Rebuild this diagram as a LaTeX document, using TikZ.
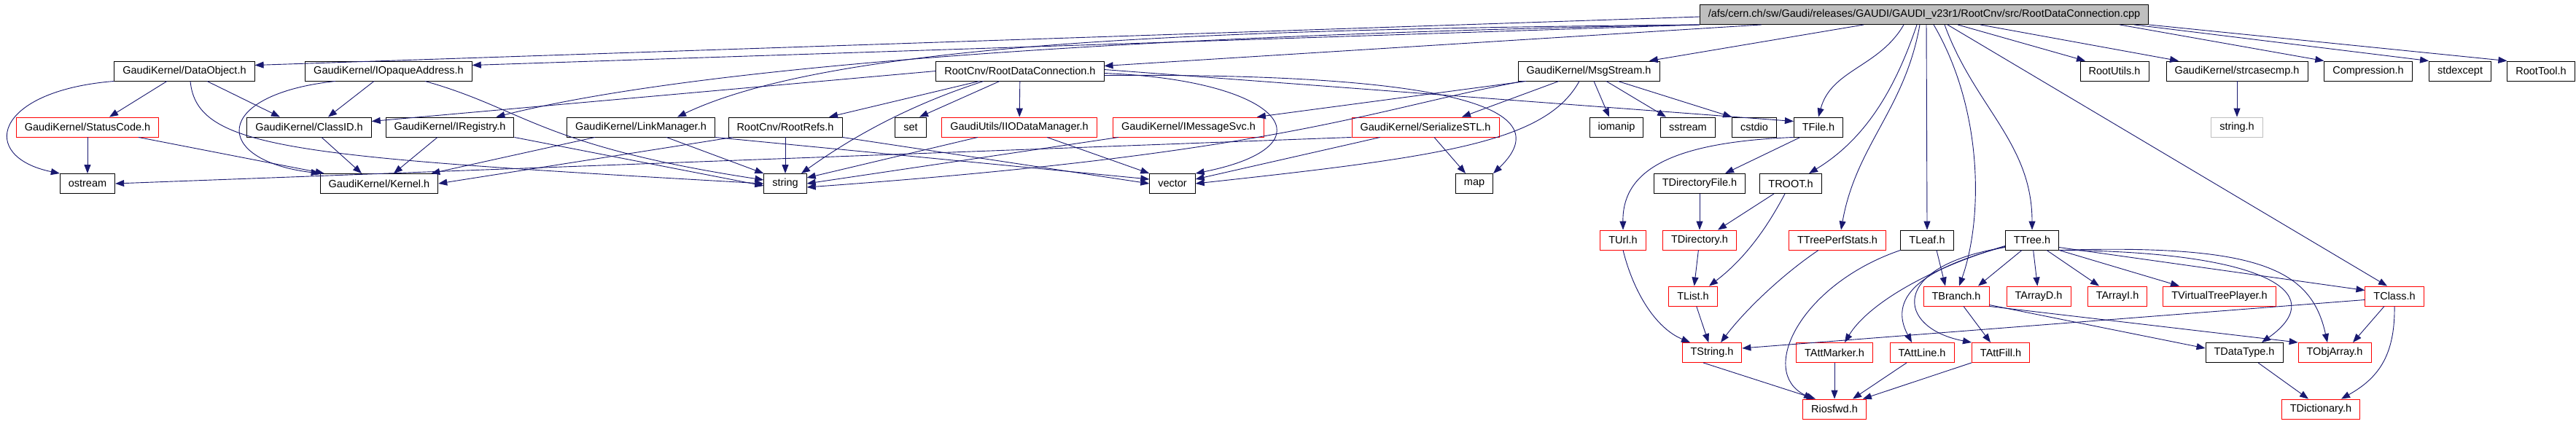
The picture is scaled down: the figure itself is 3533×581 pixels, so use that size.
\documentclass[tikz,border=0pt]{standalone}
\usepackage{fontspec}
\setmainfont{Liberation Sans}
\usepackage{tikz}
\usetikzlibrary{arrows.meta}
\definecolor{edgeblue}{HTML}{191970}
\definecolor{boxgray}{HTML}{BFBFBF}
\tikzset{
  mybox/.style = {rectangle, draw=black, fill=white, line width=0.9pt, minimum height=27pt, inner xsep=11.5pt, inner ysep=2pt, font=\fontsize{14.5}{17}\selectfont},
  myred/.style = {mybox, draw=red},
  mymain/.style = {mybox, fill=boxgray},
  mygray/.style = {mybox, draw=boxgray},
  myarrow/.style = {-{Triangle[length=12pt, width=9pt]}, draw=edgeblue, line width=0.9pt},
}

\begin{document}
\begin{tikzpicture}[x=1pt, y=1pt]
\useasboundingbox[fill=white] (0,0) rectangle (3533,-581);
\node[mymain] (main) at (2639,-20) {/afs/cern.ch/sw/Gaudi/releases/GAUDI/GAUDI\_v23r1/RootCnv/src/RootDataConnection.cpp};
\node[mybox] (dataobj) at (253,-97.5) {GaudiKernel/DataObject.h};
\node[mybox] (opaque) at (533,-97.5) {GaudiKernel/IOpaqueAddress.h};
\node[mybox] (rdch) at (1399,-97.5) {RootCnv/RootDataConnection.h};
\node[mybox] (msgstream) at (2179,-97.5) {GaudiKernel/MsgStream.h};
\node[mybox] (rootutils) at (2900,-97.5) {RootUtils.h};
\node[mybox] (strcase) at (3068,-97.5) {GaudiKernel/strcasecmp.h};
\node[mybox] (compress) at (3248,-97.5) {Compression.h};
\node[mybox] (stdexc) at (3374,-97.5) {stdexcept};
\node[mybox] (roottool) at (3485,-97.5) {RootTool.h};
\node[myred] (statuscode) at (120,-174.5) {GaudiKernel/StatusCode.h};
\node[mybox] (classid) at (424,-174.5) {GaudiKernel/ClassID.h};
\node[mybox] (iregistry) at (617,-174.5) {GaudiKernel/IRegistry.h};
\node[mybox] (linkmgr) at (879,-174.5) {GaudiKernel/LinkManager.h};
\node[mybox] (rootrefs) at (1077,-174.5) {RootCnv/RootRefs.h};
\node[mybox] (stdset) at (1249,-174.5) {set};
\node[myred] (iodatamgr) at (1398,-174.5) {GaudiUtils/IIODataManager.h};
\node[myred] (imsgsvc) at (1630,-174.5) {GaudiKernel/IMessageSvc.h};
\node[myred] (serialize) at (1955,-174.5) {GaudiKernel/SerializeSTL.h};
\node[mybox] (iomanip) at (2217,-174.5) {iomanip};
\node[mybox] (sstream) at (2315,-174.5) {sstream};
\node[mybox] (cstdio) at (2406,-174.5) {cstdio};
\node[mybox] (tfile) at (2494,-174.5) {TFile.h};
\node[mygray] (stringh) at (3068,-174.5) {string.h};
\node[mybox] (ostream) at (120,-252) {ostream};
\node[mybox] (kernel) at (520,-252) {GaudiKernel/Kernel.h};
\node[mybox] (stdstring) at (1077,-252) {string};
\node[mybox] (stdvector) at (1608,-252) {vector};
\node[mybox] (stdmap) at (2022,-252) {map};
\node[mybox] (tdirfile) at (2331,-252) {TDirectoryFile.h};
\node[mybox] (troot) at (2456,-252) {TROOT.h};
\node[myred] (turl) at (2226,-329.5) {TUrl.h};
\node[myred] (tdirectory) at (2331,-329.5) {TDirectory.h};
\node[myred] (tperf) at (2520,-329.5) {TTreePerfStats.h};
\node[mybox] (tleaf) at (2643,-329.5) {TLeaf.h};
\node[mybox] (ttree) at (2787,-329.5) {TTree.h};
\node[myred] (tlist) at (2322,-406.5) {TList.h};
\node[myred] (tbranch) at (2683,-406.5) {TBranch.h};
\node[myred] (tarrayd) at (2796,-406.5) {TArrayD.h};
\node[myred] (tarrayi) at (2904,-406.5) {TArrayI.h};
\node[myred] (tvtp) at (3044,-406.5) {TVirtualTreePlayer.h};
\node[myred] (tclass) at (3284,-406.5) {TClass.h};
\node[myred] (tstring) at (2348,-484) {TString.h};
\node[myred] (tattmarker) at (2516,-484) {TAttMarker.h};
\node[myred] (tattline) at (2636,-484) {TAttLine.h};
\node[myred] (tattfill) at (2744,-484) {TAttFill.h};
\node[mybox] (tdatatype) at (3078,-484) {TDataType.h};
\node[myred] (tobjarray) at (3202,-484) {TObjArray.h};
\node[myred] (riosfwd) at (2516,-561.5) {Riosfwd.h};
\node[myred] (tdict) at (3183,-561.5) {TDictionary.h};
\draw[myarrow] ([yshift=-3pt]main.west) -- ([yshift=8pt]dataobj.east);
\draw[myarrow] (main.south west) -- ([yshift=8pt]opaque.east);
\draw[myarrow] (main.south west) .. controls (1700,-45) and (1000,-80) .. ([xshift=-25pt]iregistry.north east);
\draw[myarrow] (main.south west) .. controls (1700,-40) and (1150,-55) .. ([xshift=50pt]linkmgr.north);
\draw[myarrow] ([xshift=85pt]main.south west) -- ([yshift=7pt]rdch.east);
\draw[myarrow] (main) -- (msgstream);
\draw[myarrow] ([xshift=-28pt]main.south) to[out=-120,in=75] (tfile.north);
\draw[myarrow] ([xshift=-10pt]main.south) .. controls (2600,-120) and (2560,-190) .. ([xshift=25pt]troot.north);
\draw[myarrow] ([xshift=-6pt]main.south) to[out=-100,in=80] ([xshift=5pt]tperf.north);
\draw[myarrow] ([xshift=3pt]main.south) -- (tleaf.north);
\draw[myarrow] ([xshift=13pt]main.south) .. controls (2720,-150) and (2720,-300) .. ([xshift=4pt]tbranch.north);
\draw[myarrow] ([xshift=28pt]main.south) to[out=-70,in=90] (ttree.north);
\draw[myarrow] ([xshift=32pt]main.south) -- ([xshift=-10pt]tclass.north);
\draw[myarrow] ([xshift=46pt]main.south) -- ([xshift=-40pt]rootutils.north);
\draw[myarrow] ([xshift=77pt]main.south) -- ([xshift=-80pt]strcase.north);
\draw[myarrow] ([xshift=-40pt]main.south east) -- (compress.north west);
\draw[myarrow] ([xshift=-20pt]main.south east) -- (stdexc.north west);
\draw[myarrow] (main.south east) -- (roottool.north west);
\draw[myarrow] (rdch.west) -- ([yshift=8pt]classid.east);
\draw[myarrow] ([xshift=-56pt]rdch.south) -- ([xshift=60pt]rootrefs.north);
\draw[myarrow] ([xshift=-50pt]rdch.south) .. controls (1260,-140) and (1180,-180) .. ([xshift=22pt]stdstring.north);
\draw[myarrow] ([xshift=-28pt]rdch.south) -- ([xshift=12pt]stdset.north);
\draw[myarrow] (rdch) -- (iodatamgr);
\draw[myarrow] ([yshift=-3pt]rdch.east) .. controls (1760,-110) and (1830,-200) .. (stdvector.north east);
\draw[myarrow] ([yshift=-6pt]rdch.east) .. controls (2000,-100) and (2140,-150) .. (stdmap.north east);
\draw[myarrow] ([yshift=2pt]rdch.east) -- ([yshift=8pt]tfile.west);
\draw[myarrow] ([xshift=-24pt]dataobj.south) -- ([xshift=30pt]statuscode.north);
\draw[myarrow] ([xshift=31pt]dataobj.south) -- ([xshift=-40pt]classid.north);
\draw[myarrow] (dataobj.south west) .. controls (-10,-125) and (-30,-215) .. (ostream.north west);
\draw[myarrow] ([xshift=8pt]dataobj.south) .. controls (270,-205) and (400,-215) .. (stdstring.west);
\draw[myarrow] ([xshift=-20pt]opaque.south) -- ([xshift=26pt]classid.north);
\draw[myarrow] ([xshift=-73pt]opaque.south) .. controls (290,-130) and (290,-220) .. (kernel.north west);
\draw[myarrow] ([xshift=50pt]opaque.south) .. controls (720,-150) and (740,-200) .. ([yshift=5pt]stdstring.west);
\draw[myarrow] (statuscode) -- (ostream);
\draw[myarrow] ([xshift=70pt]statuscode.south) -- ([xshift=6pt]kernel.north west);
\draw[myarrow] ([xshift=17pt]classid.south) -- ([xshift=-24pt]kernel.north);
\draw[myarrow] ([xshift=-17pt]iregistry.south) -- ([xshift=20pt]kernel.north);
\draw[myarrow] (iregistry.south east) -- ([yshift=-3pt]stdstring.west);
\draw[myarrow] ([xshift=-63pt]linkmgr.south) -- ([xshift=-10pt]kernel.north east);
\draw[myarrow] ([xshift=35pt]linkmgr.south) -- (stdstring.north west);
\draw[myarrow] (linkmgr.south east) -- ([yshift=6pt]stdvector.west);
\draw[myarrow] (rootrefs) -- (stdstring);
\draw[myarrow] ([xshift=-72pt]rootrefs.south) -- (kernel.east);
\draw[myarrow] (rootrefs.south east) -- (stdvector.west);
\draw[myarrow] ([xshift=-57pt]iodatamgr.south) -- ([yshift=8pt]stdstring.east);
\draw[myarrow] ([xshift=38pt]iodatamgr.south) -- (stdvector.north west);
\draw[myarrow] ([xshift=-96pt]imsgsvc.south) -- (stdstring.east);
\draw[myarrow] (serialize.south west) -- (ostream.east);
\draw[myarrow] ([xshift=-62pt]serialize.south) -- ([yshift=6pt]stdvector.east);
\draw[myarrow] ([xshift=12pt]serialize.south) -- ([xshift=-12pt]stdmap.north);
\draw[myarrow] ([xshift=-86pt]msgstream.south) -- ([xshift=-10pt]imsgsvc.north east);
\draw[myarrow] ([xshift=-41pt]msgstream.south) -- ([xshift=50pt]serialize.north);
\draw[myarrow] ([xshift=-90pt]msgstream.south) .. controls (1880,-150) and (1760,-210) .. ([yshift=-5pt]stdstring.east);
\draw[myarrow] ([xshift=-13pt]msgstream.south) .. controls (2120,-195) and (1980,-215) .. (stdvector.east);
\draw[myarrow] ([xshift=7pt]msgstream.south) -- ([xshift=-10pt]iomanip.north);
\draw[myarrow] ([xshift=24pt]msgstream.south) -- ([xshift=-30pt]sstream.north);
\draw[myarrow] ([xshift=40pt]msgstream.south) -- (cstdio.north west);
\draw[myarrow] (tfile.south west) .. controls (2300,-195) and (2225,-230) .. (turl.north);
\draw[myarrow] ([xshift=-25pt]tfile.south) -- ([xshift=35pt]tdirfile.north);
\draw[myarrow] (tdirfile) -- (tdirectory);
\draw[myarrow] ([xshift=-23pt]troot.south) -- ([xshift=25pt]tdirectory.north);
\draw[myarrow] ([xshift=-8pt]troot.south) .. controls (2430,-300) and (2400,-350) .. ([xshift=22pt]tlist.north);
\draw[myarrow] (tdirectory) -- (tlist);
\draw[myarrow] (turl.south) .. controls (2240,-400) and (2270,-450) .. ([xshift=-30pt]tstring.north);
\draw[myarrow] (tlist) -- (tstring);
\draw[myarrow] ([xshift=-26pt]tperf.south) .. controls (2440,-380) and (2390,-430) .. ([xshift=12pt]tstring.north);
\draw[myarrow] ([xshift=13pt]tleaf.south) -- ([xshift=-15pt]tbranch.north);
\draw[myarrow] (tleaf.south west) .. controls (2470,-390) and (2410,-510) .. ([xshift=-30pt]riosfwd.north);
\draw[myarrow] ([xshift=-14pt]ttree.south) -- ([xshift=30pt]tbranch.north);
\draw[myarrow] (ttree) -- (tarrayd);
\draw[myarrow] ([xshift=20pt]ttree.south) -- ([xshift=-25pt]tarrayi.north);
\draw[myarrow] (ttree.south east) -- ([xshift=-55pt]tvtp.north);
\draw[myarrow] ([yshift=-10pt]ttree.east) -- ([yshift=8pt]tclass.west);
\draw[myarrow] (ttree.south east) .. controls (3100,-345) and (3200,-400) .. ([xshift=24pt]tdatatype.north);
\draw[myarrow] (ttree.south east) .. controls (3100,-335) and (3170,-370) .. ([xshift=-10pt]tobjarray.north);
\draw[myarrow] ([yshift=-8pt]ttree.west) .. controls (2640,-370) and (2560,-420) .. ([xshift=14pt]tattmarker.north);
\draw[myarrow] ([yshift=-9pt]ttree.west) .. controls (2630,-370) and (2590,-410) .. ([xshift=-14pt]tattline.north);
\draw[myarrow] ([yshift=-10pt]ttree.west) .. controls (2590,-365) and (2600,-450) .. (tattfill.north west);
\draw[myarrow] ([xshift=10pt]tbranch.south) -- ([xshift=-14pt]tattfill.north);
\draw[myarrow] ([yshift=-12pt]tbranch.east) -- ([yshift=6pt]tdatatype.west);
\draw[myarrow] (tbranch.south east) -- (tobjarray.north west);
\draw[myarrow] ([yshift=-5pt]tclass.west) -- ([yshift=6pt]tstring.east);
\draw[myarrow] ([xshift=-14pt]tclass.south) -- ([xshift=25pt]tobjarray.north);
\draw[myarrow] (tclass.south) .. controls (3285,-490) and (3260,-520) .. ([xshift=28pt]tdict.north);
\draw[myarrow] ([xshift=19pt]tdatatype.south) -- ([xshift=-17pt]tdict.north);
\draw[myarrow] ([xshift=-12pt]tstring.south) -- ([xshift=-26pt]riosfwd.north);
\draw[myarrow] (tattmarker) -- (riosfwd);
\draw[myarrow] ([xshift=-21pt]tattline.south) -- ([xshift=25pt]riosfwd.north);
\draw[myarrow] (tattfill.south west) -- ([xshift=-5pt]riosfwd.north east);
\draw[myarrow] (strcase) -- (stringh);
\end{tikzpicture}
\end{document}
